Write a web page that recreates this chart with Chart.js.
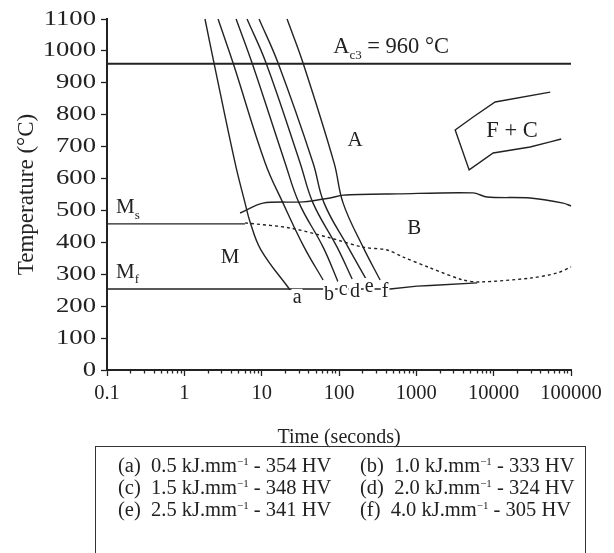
<!DOCTYPE html>
<html>
<head>
<meta charset="utf-8">
<script src="https://cdn.jsdelivr.net/npm/chart.js@4.4.1/dist/chart.umd.min.js"></script>
<style>
  body { margin: 0; background: #fff; }
  #contenedor { position: relative; width: 614px; height: 553px; overflow: hidden; }
  #leyenda {
    position: absolute; left: 95px; top: 446px; width: 489px; height: 130px;
    border: 1px solid #333; border-bottom: none;
    font-family: 'Liberation Serif', 'Times New Roman', serif; font-size: 20.5px; color: #222;
  }
  #leyenda span { position: absolute; white-space: pre; line-height: 22px; }
  #leyenda sup { font-size: 11px; vertical-align: 7px; line-height: 0; }
</style>
</head>
<body>
<div id="contenedor">
  <canvas id="chart-cct" width="614" height="553"></canvas>
  <div id="leyenda"></div>
</div>
<script>
// curvas de enfriamiento (tiempo en s, temperatura en °C)
const tiempoA = [1.85, 2.42, 4.53, 6.1, 7.08, 9.82, 23.3]
const tempA = [1100, 962, 649, 523, 464, 376, 251]
const tiempoB = [2.73, 4.27, 11.1, 18.9, 35.4, 62.3]
const tempB = [1100, 962, 649, 523, 385, 282]
const tiempoC = [4.67, 7.52, 20.1, 30.5, 62.3, 97.3]
const tempC = [1100, 962, 649, 523, 385, 276]
const tiempoD = [6.47, 11.4, 31.4, 46.2, 94.5, 148]
const tempD = [1100, 962, 649, 523, 385, 285]
const tiempoE = [9.25, 16.3, 46.2, 64.2, 131, 224]
const tempE = [1100, 962, 649, 523, 385, 285]
const tiempoF = [21.3, 34.3, 86.4, 113, 205, 340]
const tempF = [1100, 962, 649, 523, 385, 282]

// lineas de transformacion
const tiempoAc3 = [0.1, 100000]
const tempAc3 = [960, 960]
const tiempoMs = [0.1, 6.1]
const tempMs = [458, 458]
const tiempoMf = [0.1, 458, 1020, 1510, 6120]
const tempMf = [254, 254, 263, 265, 273]
const tiempoBainitaIni = [5.26, 10.4, 34.3, 76.7, 113, 565, 5430, 8240, 29600, 79300, 100000]
const tempBainitaIni = [492, 523, 527, 539, 548, 552, 555, 542, 539, 523, 514]
const tiempoBainitaFin = [6.1, 23.3, 76.7, 205, 419, 675, 1510, 4030, 6690, 29600, 66300, 100000]
const tempBainitaFin = [461, 445, 414, 385, 376, 354, 320, 282, 276, 288, 304, 323]
const tiempoFC = [53800, 10450, 5430, 3180, 4820, 9860, 29600, 53800, 74700]
const tempFC = [871, 840, 793, 752, 627, 680, 699, 715, 724]

// ejes
const decadasX = [0.1, 1, 10, 100, 1000, 10000, 100000]
const etiquetasX = ['0.1', '1', '10', '100', '1000', '10000', '100000']
const pasoY = 100

// leyenda
const entradasLeyenda = [
  ['(a)', '0.5', '354'], ['(b)', '1.0', '333'],
  ['(c)', '1.5', '348'], ['(d)', '2.0', '324'],
  ['(e)', '2.5', '341'], ['(f)', '4.0', '305']
]

const fuente = "'Liberation Serif', 'Times New Roman', serif"
const tinta = '#222'

function serie(tiempos, temps) {
  return tiempos.map((t, i) => ({ x: t, y: temps[i] }))
}

function linea(tiempos, temps, extra = {}) {
  return {
    data: serie(tiempos, temps),
    showLine: true,
    borderColor: tinta,
    borderWidth: 1.4,
    pointRadius: 0,
    tension: 0,
    ...extra
  }
}

// marcas menores del eje logaritmico
const marcasX = []
decadasX.forEach(d => {
  marcasX.push(d)
  if (d < 100000) for (let k = 2; k <= 9; k++) marcasX.push(+(d * k).toPrecision(3))
})
const esDecada = v => decadasX.some(d => Math.abs(d - v) / d < 1e-6)

// textos sobre el grafico
const rotulos = [
  { t: 84, T: 1012, texto: 'A', sub: 'c3', resto: ' = 960 °C', align: 'left', tam: 22.5 },
  { t: 161, T: 718, texto: 'A', tam: 21 },
  { t: 938, T: 445, texto: 'B', tam: 21 },
  { t: 3.9, T: 354, texto: 'M', tam: 21 },
  { t: 17300, T: 749, texto: 'F + C', tam: 22.5 },
  { t: 0.131, T: 508, texto: 'M', sub: 's', align: 'left', tam: 21 },
  { t: 0.131, T: 307, texto: 'M', sub: 'f', align: 'left', tam: 21 }
]
const letrasCurvas = [
  { t: 28.7, T: 226, texto: 'a' },
  { t: 74.5, T: 235, texto: 'b' },
  { t: 113, T: 251, texto: 'c' },
  { t: 161, T: 245, texto: 'd' },
  { t: 245, T: 260, texto: 'e' },
  { t: 394, T: 245, texto: 'f' }
]

const pluginRotulos = {
  id: 'rotulos',
  afterDatasetsDraw(chart) {
    const { ctx, scales: { x, y } } = chart
    ctx.save()
    ctx.fillStyle = tinta
    ctx.textBaseline = 'middle'

    rotulos.forEach(r => {
      const px = x.getPixelForValue(r.t)
      const py = y.getPixelForValue(r.T)
      ctx.font = `${r.tam}px ${fuente}`
      const ancho = ctx.measureText(r.texto).width
      let inicio = r.align === 'left' ? px : px - ancho / 2
      ctx.textAlign = 'left'
      ctx.fillText(r.texto, inicio, py)
      let cursor = inicio + ancho
      if (r.sub) {
        ctx.font = `13px ${fuente}`
        ctx.fillText(r.sub, cursor, py + 8)
        cursor += ctx.measureText(r.sub).width
      }
      if (r.resto) {
        ctx.font = `${r.tam}px ${fuente}`
        ctx.fillText(r.resto, cursor, py)
      }
    })

    ctx.font = `20px ${fuente}`
    ctx.textAlign = 'center'
    letrasCurvas.forEach(l => {
      const px = x.getPixelForValue(l.t)
      const py = y.getPixelForValue(l.T)
      const ancho = ctx.measureText(l.texto).width
      ctx.fillStyle = '#fff'
      ctx.fillRect(px - ancho / 2 - 1, py - 9, ancho + 2, 16)
      ctx.fillStyle = tinta
      ctx.fillText(l.texto, px, py)
    })
    ctx.restore()
  },
  afterDraw(chart) {
    const { ctx, scales: { x, y } } = chart
    ctx.save()

    // marcas menores del eje x, mas cortas
    ctx.strokeStyle = tinta
    ctx.lineWidth = 1.3
    marcasX.filter(v => !esDecada(v)).forEach(v => {
      const px = Math.round(x.getPixelForValue(v)) + 0.5
      ctx.beginPath()
      ctx.moveTo(px, x.top)
      ctx.lineTo(px, x.top + 3.5)
      ctx.stroke()
    })

    // numeros del eje y, algo mas anchos que los del eje x
    ctx.fillStyle = tinta
    ctx.font = `21px ${fuente}`
    ctx.textAlign = 'right'
    ctx.textBaseline = 'middle'
    y.ticks.forEach(t => {
      const py = y.getPixelForValue(t.value)
      ctx.save()
      ctx.translate(y.right - 11, py)
      ctx.scale(1.27, 1)
      ctx.fillText(String(t.value), 0, 0)
      ctx.restore()
    })
    ctx.restore()
  }
}

const ctx = document.getElementById('chart-cct').getContext('2d')

new Chart(ctx, {
  type: 'scatter',
  data: {
    datasets: [
      linea(tiempoAc3, tempAc3, { borderWidth: 2 }),
      linea(tiempoMs, tempMs),
      linea(tiempoMf, tempMf),
      linea(tiempoBainitaIni, tempBainitaIni, { tension: 0.3 }),
      linea(tiempoBainitaFin, tempBainitaFin, { borderDash: [3, 3], tension: 0.3 }),
      linea(tiempoFC, tempFC),
      linea(tiempoA, tempA, { tension: 0.4 }),
      linea(tiempoB, tempB, { tension: 0.4 }),
      linea(tiempoC, tempC, { tension: 0.4 }),
      linea(tiempoD, tempD, { tension: 0.4 }),
      linea(tiempoE, tempE, { tension: 0.4 }),
      linea(tiempoF, tempF, { tension: 0.4 })
    ]
  },
  options: {
    responsive: false,
    animation: false,
    clip: false,
    layout: { padding: { left: 0, right: 43, top: 19, bottom: 102 } },
    plugins: {
      legend: { display: false },
      tooltip: { enabled: false }
    },
    scales: {
      x: {
        type: 'logarithmic',
        min: 0.1,
        max: 100000,
        afterBuildTicks: s => { s.ticks = marcasX.map(v => ({ value: v, major: esDecada(v) })) },
        afterFit: s => { s.height = 81 },
        border: { color: tinta, width: 2 },
        grid: {
          drawOnChartArea: false,
          tickLength: 6,
          tickWidth: 1.3,
          tickColor: c => c.tick && esDecada(c.tick.value) ? tinta : 'rgba(0,0,0,0)'
        },
        ticks: {
          autoSkip: false,
          maxRotation: 0,
          padding: 5,
          color: tinta,
          font: { family: fuente, size: 20.5 },
          callback: v => {
            const i = decadasX.findIndex(d => Math.abs(d - v) / d < 1e-6)
            return i >= 0 ? etiquetasX[i] : ''
          }
        },
        title: {
          display: true,
          text: 'Time (seconds)',
          color: tinta,
          font: { family: fuente, size: 20 },
          padding: { top: 0, bottom: 1 }
        }
      },
      y: {
        min: 0,
        max: 1100,
        afterFit: s => { s.width = 107 },
        border: { color: tinta, width: 2 },
        grid: { drawOnChartArea: false, tickLength: 6, tickWidth: 1.3, tickColor: tinta },
        ticks: {
          stepSize: pasoY,
          display: false
        },
        title: {
          display: true,
          text: 'Temperature (°C)',
          color: tinta,
          font: { family: fuente, size: 23 },
          padding: { top: 13, bottom: 0 }
        }
      }
    }
  },
  plugins: [pluginRotulos]
})

// leyenda en dos columnas
const $leyenda = document.getElementById('leyenda')
$leyenda.innerHTML = entradasLeyenda.map((e, i) => {
  const izq = i % 2 === 0 ? 22 : 264
  const arriba = 7 + Math.floor(i / 2) * 22
  return `<span style="left:${izq}px;top:${arriba}px">${e[0]}  ${e[1]} kJ.mm<sup>−1</sup> - ${e[2]} HV</span>`
}).join('')
</script>
</body>
</html>
